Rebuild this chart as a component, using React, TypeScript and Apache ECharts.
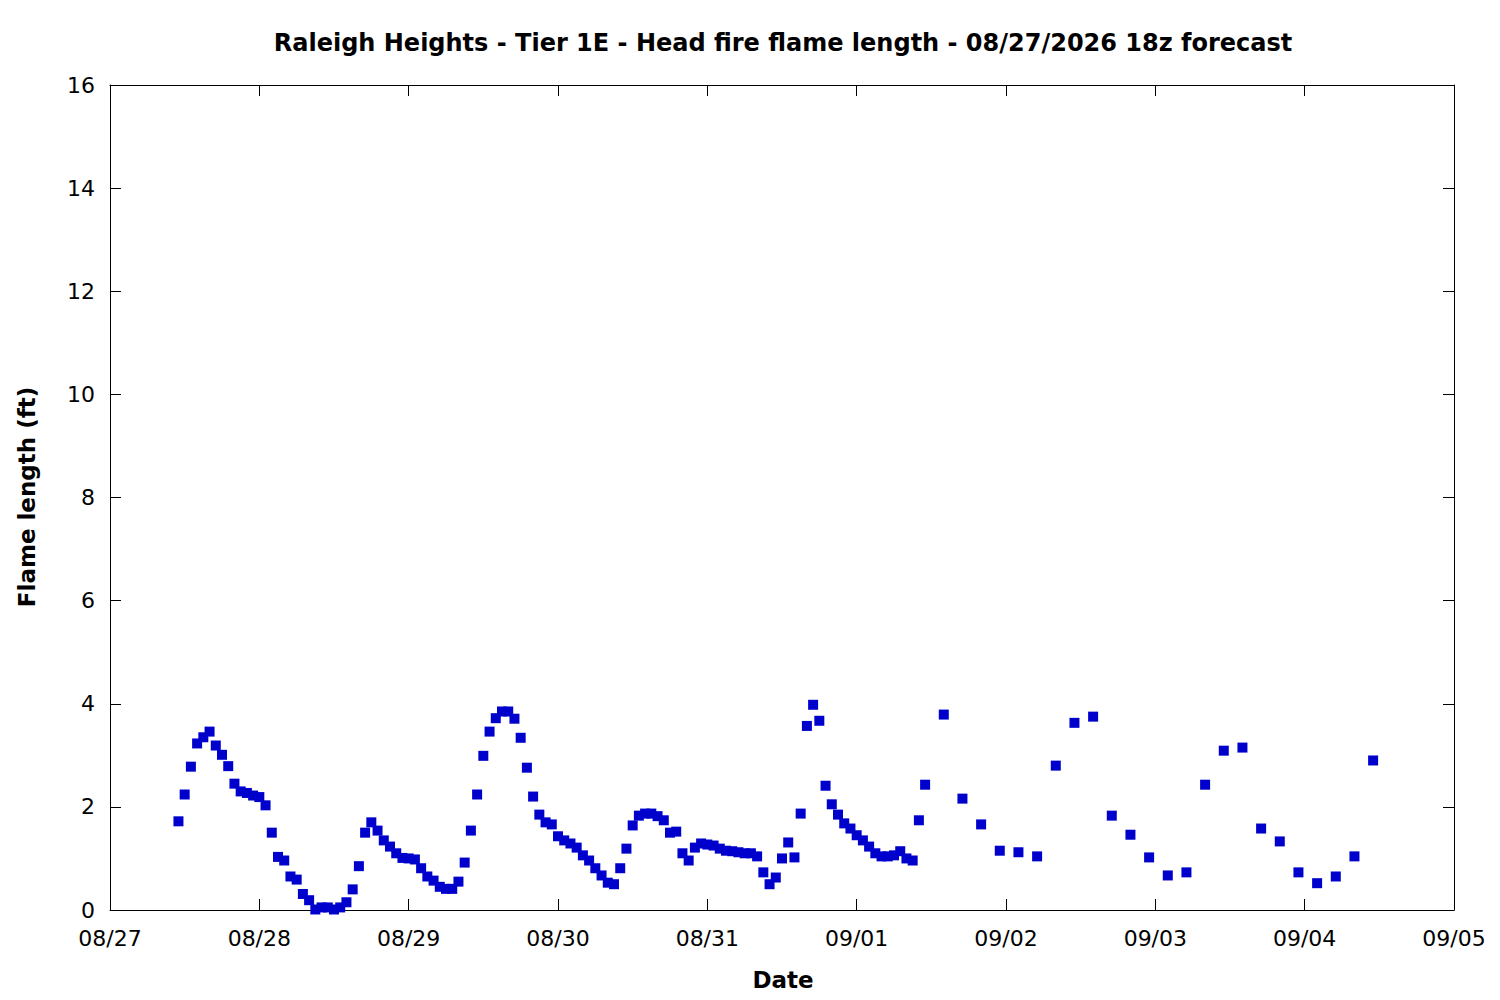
import React, { useEffect, useRef } from "react";
import * as echarts from "echarts";

// Hours since 08/27 00:00
const hours: number[] = [
  11, 12, 13, 14, 15, 16, 17, 18, 19, 20, 21, 22, 23, 24, 25, 26, 27, 28, 29, 30,
  31, 32, 33, 34, 35, 36, 37, 38, 39, 40, 41, 42, 43, 44, 45, 46, 47, 48, 49, 50,
  51, 52, 53, 54, 55, 56, 57, 58, 59, 60, 61, 62, 63, 64, 65, 66, 67, 68, 69, 70,
  71, 72, 73, 74, 75, 76, 77, 78, 79, 80, 81, 82, 83, 84, 85, 86, 87, 88, 89, 90,
  91, 92, 93, 94, 95, 96, 97, 98, 99, 100, 101, 102, 103, 104, 105, 106, 107, 108, 109, 110,
  111, 112, 113, 114, 115, 116, 117, 118, 119, 120, 121, 122, 123, 124, 125, 126, 127, 128, 129, 130,
  131, 134, 137, 140, 143, 146, 149, 152, 155, 158, 161, 164, 167, 170, 173, 176, 179, 182, 185, 188,
  191, 194, 197, 200, 203,
];

const flameLength: number[] = [
  1.72, 2.24, 2.78, 3.23, 3.35, 3.46, 3.19, 3.01, 2.79, 2.45, 2.30, 2.27, 2.22, 2.19, 2.03, 1.50, 1.03, 0.96, 0.65, 0.59,
  0.31, 0.19, 0.01, 0.05, 0.05, 0.01, 0.05, 0.15, 0.40, 0.85, 1.50, 1.70, 1.54, 1.35, 1.23, 1.10, 1.01, 1.00, 0.98, 0.81,
  0.65, 0.57, 0.45, 0.41, 0.41, 0.55, 0.92, 1.54, 2.24, 2.99, 3.46, 3.72, 3.85, 3.85, 3.71, 3.34, 2.76, 2.20, 1.85, 1.70,
  1.66, 1.43, 1.35, 1.29, 1.21, 1.06, 0.96, 0.81, 0.67, 0.53, 0.50, 0.81, 1.19, 1.64, 1.83, 1.87, 1.87, 1.82, 1.74, 1.50,
  1.52, 1.10, 0.96, 1.21, 1.29, 1.27, 1.25, 1.19, 1.15, 1.14, 1.12, 1.10, 1.10, 1.04, 0.73, 0.50, 0.63, 1.00, 1.31, 1.02,
  1.87, 3.57, 3.98, 3.67, 2.41, 2.05, 1.85, 1.68, 1.58, 1.45, 1.35, 1.23, 1.10, 1.04, 1.04, 1.06, 1.14, 1.00, 0.96, 1.74,
  2.43, 3.79, 2.16, 1.66, 1.15, 1.12, 1.04, 2.80, 3.63, 3.75, 1.83, 1.46, 1.02, 0.67, 0.73, 2.43, 3.09, 3.15, 1.58, 1.33,
  0.73, 0.52, 0.65, 1.04, 2.90,
];

const xTickLabels: string[] = [
  "08/27", "08/28", "08/29", "08/30", "08/31", "09/01", "09/02", "09/03", "09/04", "09/05",
];

const titleText = "Raleigh Heights - Tier 1E - Head fire flame length - 08/27/2026 18z forecast";
const xName = "Date";
const yName = "Flame length (ft)";

const FONT = "DejaVu Sans";

export default function App() {
  const ref = useRef<HTMLDivElement>(null);

  useEffect(() => {
    if (!ref.current) return;
    const chart = echarts.init(ref.current, null, { renderer: "svg" });
    const data = hours.map((h, i) => [h, flameLength[i]]);
    const axisLine = { show: true, onZero: false, lineStyle: { color: "#000", width: 1 } };
    const axisTick = { show: true, inside: true, length: 11, lineStyle: { color: "#000", width: 1 } };
    chart.setOption({
      animation: false,
      backgroundColor: "#fff",
      grid: { left: 110, top: 85, right: 46, bottom: 90, containLabel: false },
      graphic: [
        {
          type: "text",
          x: 783,
          y: 43,
          style: {
            text: titleText,
            fontFamily: FONT,
            fontWeight: "bold",
            fontSize: 24,
            fill: "#000",
            textAlign: "center",
            textVerticalAlign: "middle",
          },
        },
        {
          type: "text",
          x: 783,
          y: 980,
          style: {
            text: xName,
            fontFamily: FONT,
            fontWeight: "bold",
            fontSize: 23,
            fill: "#000",
            textAlign: "center",
            textVerticalAlign: "middle",
          },
        },
        {
          type: "text",
          x: 27,
          y: 497,
          rotation: Math.PI / 2,
          style: {
            text: yName,
            fontFamily: FONT,
            fontWeight: "bold",
            fontSize: 23,
            fill: "#000",
            textAlign: "center",
            textVerticalAlign: "middle",
          },
        },
      ],
      xAxis: [
        {
          type: "value",
          min: 0,
          max: 216,
          interval: 24,
          position: "bottom",
          axisLine,
          axisTick,
          splitLine: { show: false },
          axisLabel: {
            show: true,
            margin: 17,
            fontFamily: FONT,
            fontSize: 22,
            color: "#000",
            formatter: (v: number) => xTickLabels[Math.round(v / 24)] ?? "",
          },
        },
        {
          type: "value",
          min: 0,
          max: 216,
          interval: 24,
          position: "top",
          axisLine,
          axisTick,
          splitLine: { show: false },
          axisLabel: { show: false },
        },
      ],
      yAxis: [
        {
          type: "value",
          min: 0,
          max: 16,
          interval: 2,
          position: "left",
          axisLine,
          axisTick,
          splitLine: { show: false },
          axisLabel: {
            show: true,
            margin: 15,
            fontFamily: FONT,
            fontSize: 22,
            color: "#000",
          },
        },
        {
          type: "value",
          min: 0,
          max: 16,
          interval: 2,
          position: "right",
          axisLine,
          axisTick,
          splitLine: { show: false },
          axisLabel: { show: false },
        },
      ],
      series: [
        {
          type: "scatter",
          xAxisIndex: 0,
          yAxisIndex: 0,
          symbol: "rect",
          symbolSize: 10,
          itemStyle: { color: "#0000cc", opacity: 1 },
          data,
        },
      ],
    });
    return () => chart.dispose();
  }, []);

  return (
    <div
      ref={ref}
      style={{ position: "fixed", left: 0, top: 0, width: 1500, height: 1000, background: "#fff" }}
    />
  );
}
